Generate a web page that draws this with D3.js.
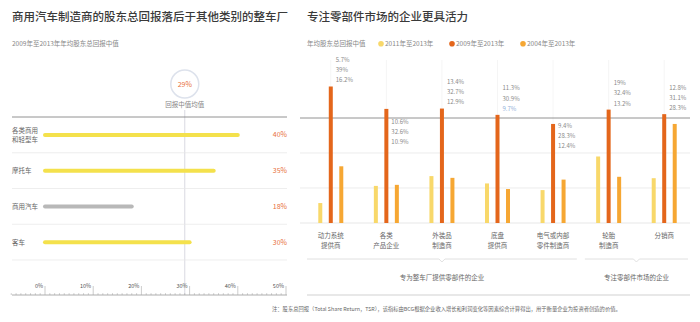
<!DOCTYPE html>
<html><head><meta charset="utf-8">
<script src="https://cdn.jsdelivr.net/npm/d3@7"></script>
<style>
body{margin:0;background:#fff;}
svg{font-family:"Noto Sans CJK SC","Noto Sans",sans-serif;}
</style></head>
<body><svg id="c" width="700" height="322"></svg>
<script>
// ---- Left chart data ----
const leftCats = [["各类商用","和轻型车"],["摩托车"],["商用汽车"],["客车"]];
const leftValues = [40, 35, 18, 30];
const leftHighlight = [true, true, false, true];
const leftMedian = 29;
const leftTicks = [0,10,20,30,40,50];

// ---- Right chart data ----
const rightCats = [["动力系统","提供商"],["各类","产品企业"],["外装品","制造商"],["底盘","提供商"],["电气或内部","零件制造商"],["轮胎","制造商"],["分销商"]];
const seriesNames = ["2011年至2013年","2009年至2013年","2004年至2013年"];
const s2011 = [5.7, 10.6, 13.4, 11.3, 9.4, 19, 12.8];
const s2009 = [39, 32.6, 32.7, 30.9, 28.3, 32.4, 31.1];
const s2004 = [16.2, 10.9, 12.9, 9.7, 12.4, 13.2, 28.3];
const labelBeside = [false, true, false, false, true, false, false];
const groupNames = ["专为整车厂提供零部件的企业","专注零部件市场的企业"];
const groupSpans = [[0,4],[5,6]];
const rightGrid = [10,20,30];

const svg = d3.select("#c");
const fmt = v => (Number.isInteger(v) ? v : v.toFixed(1)) + "%";

// ================= LEFT =================
svg.append("text").attr("x",12).attr("y",21).attr("font-size",11.5).attr("font-weight",500).attr("fill","#3a3a3a")
  .text("商用汽车制造商的股东总回报落后于其他类别的整车厂");
svg.append("text").attr("x",12).attr("y",46).attr("font-size",6.5).attr("fill","#888")
  .text("2009年至2013年年均股东总回报中值");

const xL = d3.scaleLinear().domain([0,50]).range([45,286]);
const rowY = d3.scaleBand().domain(d3.range(leftValues.length)).range([117,260]);

// median line & circle
svg.append("line").attr("x1",xL(leftMedian)).attr("x2",xL(leftMedian)).attr("y1",110).attr("y2",295)
  .attr("stroke","#c8c8d4").attr("stroke-width",0.7);
svg.append("circle").attr("cx",xL(leftMedian)).attr("cy",84).attr("r",14)
  .attr("fill","#fff").attr("stroke","#dde2ec").attr("stroke-width",1.5);
svg.append("text").attr("x",xL(leftMedian)).attr("y",86.5).attr("text-anchor","middle").attr("font-size",7)
  .attr("fill","#e8703a").text(leftMedian+"%");
svg.append("text").attr("x",xL(leftMedian)).attr("y",107).attr("text-anchor","middle").attr("font-size",6.5)
  .attr("fill","#888").text("回报中值均值");

svg.append("line").attr("x1",12).attr("x2",287).attr("y1",117).attr("y2",117).attr("stroke","#777").attr("stroke-width",0.8);
leftValues.forEach((v,i)=>{
  const y0 = rowY(i), yc = y0 + rowY.bandwidth()/2;
  svg.append("line").attr("x1",12).attr("x2",287).attr("y1",y0+rowY.bandwidth()).attr("y2",y0+rowY.bandwidth())
    .attr("stroke","#e6e6e6").attr("stroke-width",0.7);
  svg.append("line").attr("x1",xL(0)).attr("x2",xL(v)).attr("y1",yc).attr("y2",yc)
    .attr("stroke",leftHighlight[i]?"#f4e14c":"#b8b8b8").attr("stroke-width",4).attr("stroke-linecap","round");
  const lines = leftCats[i];
  lines.forEach((t,j)=>{
    svg.append("text").attr("x",12).attr("y",yc+2.5+(j-(lines.length-1)/2)*9).attr("font-size",6.5).attr("fill","#666").text(t);
  });
  svg.append("text").attr("x",287).attr("y",yc+2.5).attr("text-anchor","end").attr("font-size",7).attr("fill","#e8703a").text(v+"%");
});

// ruler axis
const axY = 295;
svg.append("line").attr("x1",12).attr("x2",287).attr("y1",axY).attr("y2",axY).attr("stroke","#999").attr("stroke-width",0.8);
d3.range(-7,51).forEach(t=>{
  const major = t>=0 && t%10===0;
  svg.append("line").attr("x1",xL(t)).attr("x2",xL(t)).attr("y1",axY).attr("y2",axY-(major?9:1.8))
    .attr("stroke","#aaa").attr("stroke-width",0.6);
});
leftTicks.forEach(t=>{
  svg.append("text").attr("x",xL(t)-2).attr("y",288).attr("text-anchor","end").attr("font-size",5.5).attr("fill","#555").text(t+"%");
});

// ================= RIGHT =================
svg.append("text").attr("x",307).attr("y",21).attr("font-size",11.5).attr("font-weight",500).attr("fill","#3a3a3a")
  .text("专注零部件市场的企业更具活力");

// legend
const legColors = ["#f8d86a","#e4661b","#f6a733"];
const lg = svg.append("g").attr("font-size",6.5).attr("fill","#888");
lg.append("text").attr("x",307).attr("y",46).text("年均股东总回报中值");
const legX = [381,452,523];
seriesNames.forEach((n,i)=>{
  lg.append("circle").attr("cx",legX[i]).attr("cy",43.8).attr("r",2.8).attr("fill",legColors[i]);
  lg.append("text").attr("x",legX[i]+4).attr("y",46).text(n);
});

const xR = d3.scaleBand().domain(d3.range(rightCats.length)).range([303,692]);
const yR = d3.scaleLinear().domain([0,30]).range([223,118]);
const cx = i => xR(i)+xR.bandwidth()/2;

// faint vertical guides
rightCats.forEach((c,i)=>{
  svg.append("line").attr("x1",cx(i)).attr("x2",cx(i)).attr("y1",60).attr("y2",223).attr("stroke","#f2f2f2").attr("stroke-width",0.8);
});
rightGrid.forEach(g=>{
  svg.append("line").attr("x1",300).attr("x2",690).attr("y1",yR(g)).attr("y2",yR(g))
    .attr("stroke",g===30?"#777":"#e4e4e4").attr("stroke-width",g===30?0.8:0.7);
});
svg.append("line").attr("x1",300).attr("x2",690).attr("y1",yR(0)).attr("y2",yR(0)).attr("stroke","#ddd").attr("stroke-width",0.7);

const series = [s2011,s2009,s2004];
const off = [-10.5,0,10.5];
series.forEach((s,k)=>{
  svg.append("g").selectAll("rect").data(s).join("rect")
    .attr("x",(d,i)=>cx(i)+off[k]-2).attr("width",4)
    .attr("y",d=>yR(d)).attr("height",d=>yR(0)-yR(d))
    .attr("fill",legColors[k]);
});

// value labels
rightCats.forEach((c,i)=>{
  const top = yR(s2009[i]);
  const base = labelBeside[i] ? top+ (i===1?15:4) : top-24.5;
  [s2011[i],s2009[i],s2004[i]].forEach((v,k)=>{
    svg.append("text").attr("x",cx(i)+5).attr("y",base+k*10.2).attr("font-size",6)
      .attr("fill",(i===3&&k===2)?"#8fb0d8":"#8a8a8a").text(fmt(v));
  });
});

// category labels
rightCats.forEach((lines,i)=>{
  lines.forEach((t,j)=>{
    svg.append("text").attr("x",cx(i)).attr("y",238+j*9.5).attr("text-anchor","middle").attr("font-size",6.5).attr("fill","#666").text(t);
  });
});

// group brackets
groupSpans.forEach((sp,g)=>{
  const x1 = xR(sp[0])+4, x2 = xR(sp[1])+xR.bandwidth()-4, xm=(x1+x2)/2;
  svg.append("path").attr("d",`M${x1},259 L${xm-3},259 L${xm},262 L${xm+3},259 L${x2},259`)
    .attr("fill","none").attr("stroke","#ddd").attr("stroke-width",0.9);
  svg.append("text").attr("x",xm).attr("y",280).attr("text-anchor","middle").attr("font-size",6.5).attr("fill","#666").text(groupNames[g]);
});
svg.append("line").attr("x1",307).attr("x2",690).attr("y1",295).attr("y2",295).attr("stroke","#ccc").attr("stroke-width",0.9);

// footnote
svg.append("text").attr("x",272).attr("y",311).attr("font-size",5.3).attr("fill","#666")
  .text("注：股东总回报（Total Share Return，TSR），该指标由BCG根据企业收入增长和利润变化等因素综合计算得出，用于衡量企业为投资者创造的价值。");
</script></body></html>
